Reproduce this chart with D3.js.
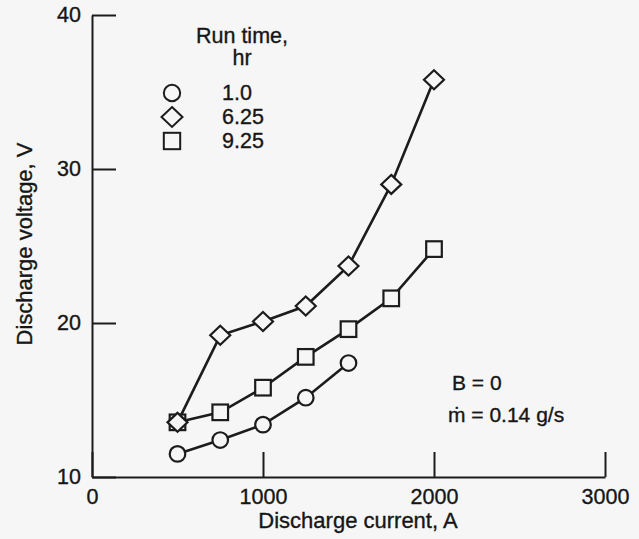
<!DOCTYPE html>
<html>
<head>
<meta charset="utf-8">
<script src="https://cdn.jsdelivr.net/npm/d3@7"></script>
<style>
  body { margin: 0; background: #f6f6f6; }
  svg text { font-family: "Liberation Sans", Arial, "DejaVu Sans", sans-serif; fill: #161616; stroke: #161616; stroke-width: 0.35px; }
</style>
</head>
<body>
<svg width="639" height="539"></svg>
<script>
// run time series (hr)
var runTimes = ["1.0", "6.25", "9.25"];
var shapes = ["circle", "diamond", "square"];

// discharge current, A
var current1 = [500, 750, 1000, 1250, 1500];
var current2 = [500, 750, 1000, 1250, 1500, 1750, 2000];
var current3 = [500, 750, 1000, 1250, 1500, 1750, 2000];

// discharge voltage, V
var voltage1 = [11.5, 12.4, 13.4, 15.15, 17.4];
var voltage2 = [13.55, 19.2, 20.1, 21.1, 23.7, 29.0, 35.8];
var voltage3 = [13.55, 14.2, 15.8, 17.8, 19.6, 21.6, 24.8];

var xTicks = [0, 1000, 2000, 3000];
var yTicks = [10, 20, 30, 40];

var ink = "#1c1c1c", bg = "#f6f6f6";

var svg = d3.select("svg");
svg.append("rect").attr("width", 639).attr("height", 539).attr("fill", bg);

var x = d3.scaleLinear().domain([0, 3000]).range([92, 605]);
var y = d3.scaleLinear().domain([10, 40]).range([477, 15]);

// axes
var yAxis = d3.axisLeft(y).tickValues(yTicks).tickFormat(d3.format("d"))
    .tickSizeInner(-24).tickSizeOuter(0).tickPadding(11);
var xAxis = d3.axisBottom(x).tickValues(xTicks).tickFormat(d3.format("d"))
    .tickSizeInner(-25).tickSizeOuter(0).tickPadding(12);

var gy = svg.append("g").attr("transform", "translate(" + x(0) + ",0)").call(yAxis);
var gx = svg.append("g").attr("transform", "translate(0," + y(10) + ")").call(xAxis);

[gx, gy].forEach(function(g) {
    g.selectAll("path, line").attr("stroke", ink).attr("stroke-width", 2);
    g.selectAll("text").attr("font-size", 21.5).attr("fill", "#161616")
        .style("font-family", "'Liberation Sans', Arial, sans-serif");
});

// axis titles
svg.append("text")
    .attr("x", 358).attr("y", 528)
    .attr("text-anchor", "middle")
    .attr("font-size", 22)
    .text("Discharge current, A");

svg.append("text")
    .attr("transform", "translate(32,244) rotate(-90)")
    .attr("text-anchor", "middle")
    .attr("font-size", 22)
    .text("Discharge voltage, V");

// symbols
function marker(sel, shape, size) {
    var s = size || 1;
    if (shape == "circle")
        return sel.append("circle").attr("r", 7.8 * s);
    if (shape == "square")
        return sel.append("rect").attr("x", -7.8 * s).attr("y", -7.8 * s)
            .attr("width", 15.6 * s).attr("height", 15.6 * s);
    return sel.append("path").attr("d", "M0," + (-9.5 * s) + "L" + (10 * s) + ",0L0," + (9.5 * s) + "L" + (-10 * s) + ",0Z");
}

var series = [
    { xs: current1, ys: voltage1, shape: "circle" },
    { xs: current3, ys: voltage3, shape: "square" },
    { xs: current2, ys: voltage2, shape: "diamond" }
];

var line = d3.line()
    .x(function(d) { return x(d[0]); })
    .y(function(d) { return y(d[1]); });

series.forEach(function(s) {
    var pts = s.xs.map(function(v, i) { return [v, s.ys[i]]; });
    svg.append("path")
        .attr("d", line(pts))
        .attr("fill", "none")
        .attr("stroke", ink)
        .attr("stroke-width", 2.6);
});

series.forEach(function(s) {
    var pts = s.xs.map(function(v, i) { return [v, s.ys[i]]; });
    svg.selectAll(null)
        .data(pts)
        .enter().append("g")
        .attr("transform", function(d) { return "translate(" + x(d[0]) + "," + y(d[1]) + ")"; })
        .each(function() {
            marker(d3.select(this), s.shape)
                .attr("fill", bg).attr("stroke", ink).attr("stroke-width", 2.2);
        });
});

// legend
svg.append("text").attr("x", 242).attr("y", 43).attr("text-anchor", "middle")
    .attr("font-size", 21.5).text("Run time,");
svg.append("text").attr("x", 242).attr("y", 65).attr("text-anchor", "middle")
    .attr("font-size", 21.5).text("hr");

runTimes.forEach(function(t, i) {
    var g = svg.append("g").attr("transform", "translate(172," + (93 + i * 24) + ")");
    marker(g, shapes[i], 1.05).attr("fill", bg).attr("stroke", ink).attr("stroke-width", 2);
    svg.append("text").attr("x", 222).attr("y", 100 + i * 23.8)
        .attr("font-size", 21.5).text(t);
});

// conditions
svg.append("text").attr("x", 452).attr("y", 390).attr("font-size", 21).text("B = 0");
svg.append("text").attr("x", 448).attr("y", 422).attr("font-size", 21).text("ṁ = 0.14 g/s");
</script>
</body>
</html>
